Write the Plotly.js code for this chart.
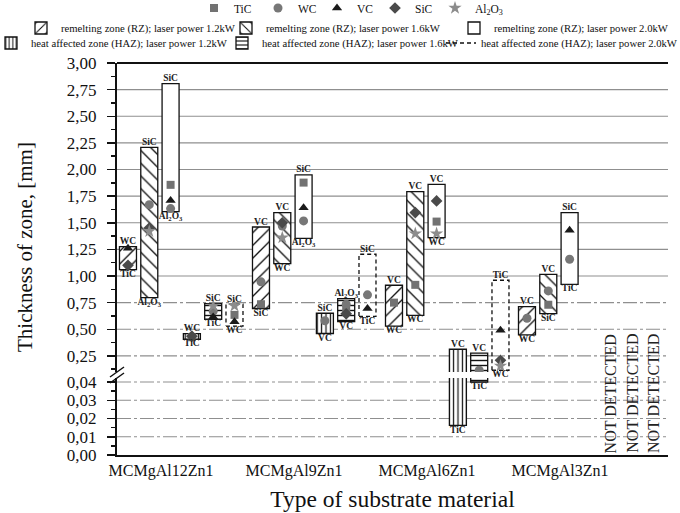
<!DOCTYPE html>
<html><head><meta charset="utf-8">
<script src="https://cdn.plot.ly/plotly-3.0.1.min.js"></script>
<style>body{margin:0;background:#fff}#chart{width:680px;height:513px}</style>
</head><body><div id="chart"></div>
<script>
// ---------------- DATA ----------------
const categories = ['MCMgAl12Zn1', 'MCMgAl9Zn1', 'MCMgAl6Zn1', 'MCMgAl3Zn1'];
const zoneNames = [
  'remelting zone (RZ); laser power 1.2kW',
  'remelting zone (RZ); laser power 1.6kW',
  'remelting zone (RZ); laser power 2.0kW',
  'heat affected zone (HAZ); laser power 1.2kW',
  'heat affected zone (HAZ); laser power 1.6kW',
  'heat affected zone (HAZ); laser power 2.0kW'
];
// zone extents per substrate (mm)
const rz12Low = [1.06, 0.695, 0.53, 0.447];
const rz12High = [1.275, 1.46, 0.913, 0.713];
const rz16Low = [0.797, 1.117, 0.631, 0.647];
const rz16High = [2.207, 1.596, 1.793, 1.016];
const rz20Low = [1.605, 1.354, 1.361, 0.922];
const rz20High = [2.807, 1.95, 1.861, 1.596];
const haz12Low = [0.406, 0.46, 0.0162, null];
const haz12High = [0.459, 0.65, 0.312, null];
const haz16Low = [0.594, 0.572, 0.040, null];
const haz16High = [0.741, 0.788, 0.275, null];
const haz20Low = [0.53, 0.62, 0.115, null];
const haz20High = [0.735, 1.204, 0.96, null];
// labels above / below each zone
const rz12Top = ['WC', 'VC', 'VC', 'VC'];
const rz12Bot = ['TiC', 'SiC', 'WC', 'WC'];
const rz16Top = ['SiC', 'VC', 'VC', 'VC'];
const rz16Bot = ['Al<sub>2</sub>O<sub>3</sub>', 'WC', 'WC', 'SiC'];
const rz20Top = ['SiC', 'SiC', 'VC', 'SiC'];
const rz20Bot = ['Al<sub>2</sub>O<sub>3</sub>', 'Al<sub>2</sub>O<sub>3</sub>', 'WC', 'TiC'];
const haz12Top = ['WC', 'SiC', 'VC', null];
const haz12Bot = ['TiC', 'VC', 'TiC', null];
const haz16Top = ['SiC', 'Al<sub>2</sub>O<sub>3</sub>', 'VC', null];
const haz16Bot = ['TiC', 'VC', 'TiC', null];
const haz20Top = ['SiC', 'SiC', 'TiC', null];
const haz20Bot = ['WC', 'TiC', 'WC', null];
// point values, order: substrate x zone (RZ1.2, RZ1.6, RZ2.0, HAZ1.2, HAZ1.6, HAZ2.0)
const tic = [null, null, 1.856, 0.425, null, 0.635,  0.735, null, 1.877, null, 0.69, null,  0.75, 0.917, 1.511, null, null, null,  null, 0.73, null, null, null, null];
const wc = [null, 1.67, 1.633, null, 0.67, null,  0.945, 1.47, 1.517, 0.58, 0.735, 0.823,  null, null, null, null, 0.115, null,  0.603, 0.86, 1.157, null, null, null];
const vc = [1.26, null, 1.71, null, 0.615, 0.57,  null, null, 1.642, null, null, 0.695,  null, null, null, null, null, 0.49,  null, null, 1.43, null, null, null];
const sic = [1.10, 1.45, null, 0.435, null, null,  null, 1.50, null, null, 0.645, null,  null, 1.596, 1.705, null, null, 0.209,  null, null, null, null, null, null];
const al2o3 = [null, 1.42, null, null, 0.72, 0.72,  null, 1.36, null, null, null, null,  null, 1.398, 1.398, null, null, 0.156,  null, null, null, null, null, null];
const notDetectedZones = [3, 4, 5];
const notDetectedText = 'NOT DETECTED';
const upperTicks = [0.25, 0.5, 0.75, 1, 1.25, 1.5, 1.75, 2, 2.25, 2.5, 2.75, 3];
const lowerTicks = [0, 0.01, 0.02, 0.03, 0.04];

// ---------------- GEOMETRY / STYLE ----------------
const zoneLow = [rz12Low, rz16Low, rz20Low, haz12Low, haz16Low, haz20Low];
const zoneHigh = [rz12High, rz16High, rz20High, haz12High, haz16High, haz20High];
const zoneTop = [rz12Top, rz16Top, rz20Top, haz12Top, haz16Top, haz20Top];
const zoneBot = [rz12Bot, rz16Bot, rz20Bot, haz12Bot, haz16Bot, haz20Bot];
const W = 680, H = 513, L = 117, R = 12, T = 63, B = 58;
const pw = W - L - R, ph = H - T - B;
const px2xp = px => (px - L) / pw;
const px2yp = py => 1 - (py - T) / ph;
const unitPx = 133;                       // pixels per substrate slot
const firstPx = 161;
const xRange = [(L - firstPx) / unitPx, (W - R - firstPx) / unitPx];
const step = 21.3 / unitPx, boxW = 17 / unitPx;
const xpos = (g, z) => g + (z - 1.55) * step;
const upperBottomPx = 372, lowerTopPx = 378;
const upperRange = [3 - (upperBottomPx - T) / 106.5, 3];
const lowerRange = [0, (H - B - lowerTopPx) / 1825];
const axisFor = v => (v < 0.06 ? 'y' : 'y2');
const ink = '#111';
const serif = 'Liberation Serif';
const patterns = [
  {shape: '/', size: 9, solidity: 0.15},
  {shape: '\\', size: 9, solidity: 0.15},
  {shape: '', size: 8, solidity: 0.2},
  {shape: '|', size: 4.4, solidity: 0.28},
  {shape: '-', size: 5, solidity: 0.28}
];
// legend entry placement (text start x, row centre y) in page pixels
const legendSlots = [
  [236, 8], [300, 8], [359, 8], [417, 8], [477, 8],
  [63, 28], [268, 28], [496, 28],
  [33, 43], [264, 43], [483, 43]
];
const legendId = i => (i === 0 ? 'legend' : 'legend' + (i + 1));

const traces = [];
// patterned zone boxes (drawn on both halves of the broken axis)
for (let z = 0; z < 5; z++) {
  ['y2', 'y'].forEach(ax => {
    const xs = [], ys = [], bs = [];
    categories.forEach((c, g) => {
      if (zoneLow[z][g] == null) return;
      xs.push(xpos(g, z)); bs.push(zoneLow[z][g]); ys.push(zoneHigh[z][g] - zoneLow[z][g]);
    });
    const p = patterns[z];
    traces.push({
      type: 'bar', x: xs, y: ys, base: bs, width: boxW, yaxis: ax,
      name: zoneNames[z], legend: legendId(5 + z), showlegend: ax === 'y2',
      marker: {color: 'white', line: {color: ink, width: 1.3},
        pattern: p.shape ? {shape: p.shape, fgcolor: ink, bgcolor: 'white', size: p.size, solidity: p.solidity} : undefined},
      hoverinfo: 'skip'
    });
  });
}
// dashed zone boxes
{
  const z = 5, xs = [], ys = [];
  categories.forEach((c, g) => {
    if (zoneLow[z][g] == null) return;
    const x = xpos(g, z), lo = zoneLow[z][g], hi = zoneHigh[z][g];
    xs.push(x - boxW / 2, x + boxW / 2, x + boxW / 2, x - boxW / 2, x - boxW / 2, null);
    ys.push(lo, lo, hi, hi, lo, null);
  });
  traces.push({type: 'scatter', mode: 'lines', x: xs, y: ys, yaxis: 'y2', name: zoneNames[5],
    legend: legendId(10), line: {color: ink, width: 1.3, dash: '4px,3px'}, hoverinfo: 'skip'});
}
// compound markers
const compounds = [
  {name: 'TiC', vals: tic, symbol: 'square', color: '#727272', size: 8},
  {name: 'WC', vals: wc, symbol: 'circle', color: '#777777', size: 9},
  {name: 'VC', vals: vc, symbol: 'triangle-up', color: '#1a1a1a', size: 9},
  {name: 'SiC', vals: sic, symbol: 'diamond', color: '#4a4a4a', size: 9},
  {name: 'Al<sub>2</sub>O<sub>3</sub>', vals: al2o3, symbol: 'star', color: '#8c8c8c', size: 10}
];
compounds.forEach((cp, ci) => {
  const xs = [], ys = [];
  cp.vals.forEach((v, i) => {
    if (v == null) return;
    xs.push(xpos(Math.floor(i / 6), i % 6)); ys.push(v);
  });
  traces.push({type: 'scatter', mode: 'markers', x: xs, y: ys, yaxis: 'y2', name: cp.name, legend: legendId(ci),
    marker: {symbol: cp.symbol, color: cp.color, size: cp.size, line: {width: 0}}, hoverinfo: 'skip'});
});
// labels above / below zones
const labelSets = {};
for (let z = 0; z < 6; z++) {
  categories.forEach((c, g) => {
    if (zoneLow[z][g] == null) return;
    [[zoneHigh[z][g], zoneTop[z][g], 'top center'], [zoneLow[z][g], zoneBot[z][g], 'bottom center']].forEach(([v, t, pos]) => {
      const key = axisFor(v) + '|' + pos;
      if (!labelSets[key]) labelSets[key] = {x: [], y: [], text: []};
      labelSets[key].x.push(xpos(g, z)); labelSets[key].y.push(v); labelSets[key].text.push(t);
    });
  });
}
Object.keys(labelSets).forEach(k => {
  const [ax, pos] = k.split('|');
  const s = labelSets[k];
  traces.push({type: 'scatter', mode: 'text', x: s.x, y: s.y, text: s.text, textposition: pos, yaxis: ax,
    showlegend: false, cliponaxis: false, hoverinfo: 'skip',
    textfont: {family: serif, size: 9.5, color: '#222', weight: 700}});
});

// ---------------- LAYOUT ----------------
const dashdot = '14px,3px,3px,3px';
const shapes = [];
upperTicks.forEach(v => {
  if (v >= 3) return;
  shapes.push({type: 'line', xref: 'paper', yref: 'y2', x0: 0, x1: 1, y0: v, y1: v, layer: 'below',
    line: {color: '#8f8f8f', width: 1.1, dash: v < 1 ? dashdot : 'solid'}});
});
lowerTicks.forEach(v => {
  if (v === 0) return;
  shapes.push({type: 'line', xref: 'paper', yref: 'y', x0: 0, x1: 1, y0: v, y1: v, layer: 'below',
    line: {color: '#8f8f8f', width: 1.1, dash: dashdot}});
});
shapes.push({type: 'line', xref: 'paper', yref: 'paper', x0: 0, x1: 1, y0: 1, y1: 1, line: {color: ink, width: 2}});
// axis break marks
shapes.push({type: 'line', xref: 'paper', yref: 'paper', x0: px2xp(110), x1: px2xp(124), y0: px2yp(377), y1: px2yp(367), line: {color: ink, width: 1.5}});
shapes.push({type: 'line', xref: 'paper', yref: 'paper', x0: px2xp(110), x1: px2xp(124), y0: px2yp(383), y1: px2yp(373), line: {color: ink, width: 1.5}});

const annotations = notDetectedZones.map(z => ({
  x: xpos(3, z), y: 0, xref: 'x', yref: 'y', yanchor: 'bottom', xanchor: 'center', xshift: 20,
  text: notDetectedText, textangle: -90, showarrow: false,
  font: {family: serif, size: 16, color: '#222'}
}));
annotations.push({x: px2xp(25), y: px2yp(247), xref: 'paper', yref: 'paper', xanchor: 'center', yanchor: 'middle',
  text: 'Thickness of zone, [mm]', textangle: -90, showarrow: false, font: {family: serif, size: 21, color: ink}});

const yCommon = {tickformat: '.2f', ticks: 'outside', ticklen: 8, tickwidth: 1.5, tickcolor: ink, ticklabelstandoff: 7,
  showline: true, linewidth: 2, linecolor: ink, showgrid: false, zeroline: false,
  tickfont: {family: serif, size: 17, color: ink}, anchor: 'x'};

const layout = {
  width: W, height: H, margin: {l: L, r: R, t: T, b: B, autoexpand: false},
  paper_bgcolor: 'white', plot_bgcolor: 'white', separators: ', ', barmode: 'overlay',
  font: {family: serif, color: ink}, hovermode: false,
  xaxis: {range: xRange, tickvals: [0, 1, 2, 3], ticktext: categories, ticks: '', showgrid: false,
    zeroline: false, showline: true, linecolor: ink, linewidth: 2, anchor: 'y',
    tickfont: {family: serif, size: 16, color: ink},
    title: {text: 'Type of substrate material', font: {family: serif, size: 23.5, color: ink}, standoff: 11}},
  yaxis: Object.assign({}, yCommon, {domain: [0, (H - B - lowerTopPx) / ph], range: lowerRange, tickvals: lowerTicks,
    minor: {tickvals: [0.005, 0.015, 0.025, 0.035], ticks: 'outside', ticklen: 4, tickcolor: ink}}),
  yaxis2: Object.assign({}, yCommon, {domain: [(H - B - upperBottomPx) / ph, 1], range: upperRange, tickvals: upperTicks,
    minor: {dtick: 0.125, tick0: 0.125, ticks: 'outside', ticklen: 4, tickcolor: ink}}),
  shapes: shapes, annotations: annotations
};
legendSlots.forEach(([tx, ty], i) => {
  layout[legendId(i)] = {
    orientation: 'h', x: px2xp(tx - 42), xanchor: 'left', y: px2yp(ty), yanchor: 'middle',
    bgcolor: 'rgba(0,0,0,0)', itemwidth: 30,
    font: {family: serif, size: i < 5 ? 11.5 : 10.7, color: ink}
  };
});
Plotly.newPlot('chart', traces, layout, {staticPlot: true, displayModeBar: false});
</script></body></html>
